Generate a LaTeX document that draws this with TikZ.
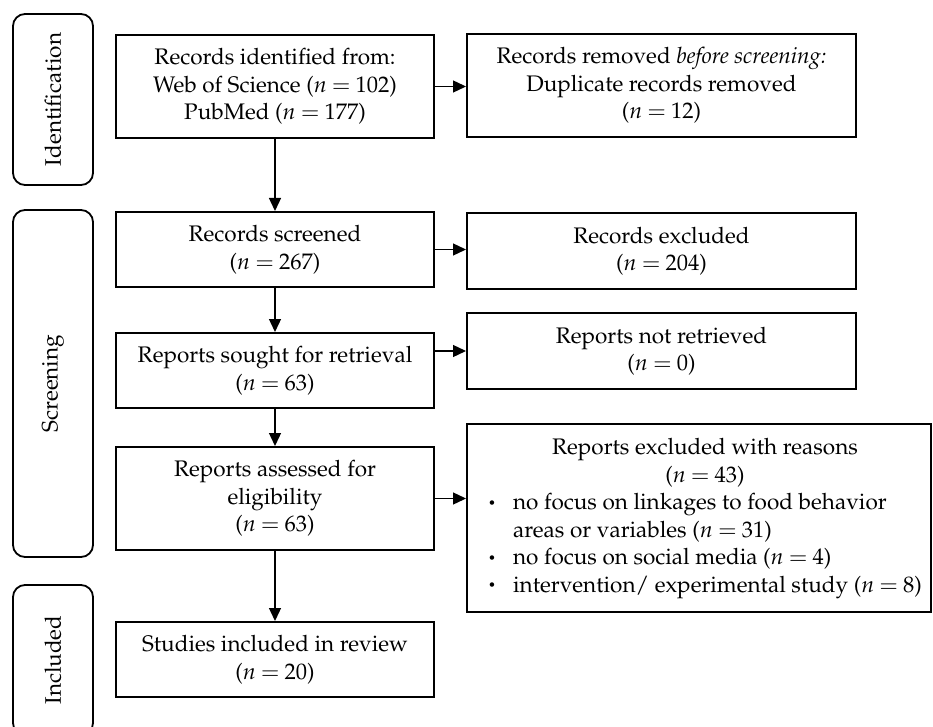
\documentclass[tikz,border=0pt]{standalone}
\usepackage[T1]{fontenc}
\usepackage{mathpazo}
\usetikzlibrary{arrows.meta}
\thickmuskip=4mu
\newcommand{\smallbullet}{\raisebox{2.5pt}{\fontsize{13}{13}\selectfont\textbullet}}
\tikzset{
  box/.style={draw, line width=2pt, align=center, inner sep=0pt},
  phase/.style={draw, line width=1.8pt, rounded corners=12pt, rotate=90, inner sep=0pt},
  flow/.style={line width=1.3pt, -{Triangle[length=13pt,width=12pt]}},
}
\begin{document}
\begin{tikzpicture}[x=1pt, y=-1pt, font=\fontsize{22.5}{27.5}\selectfont]
\useasboundingbox (0,0) rectangle (933,727);

% phase labels on the left
\node[phase, minimum width=171pt, minimum height=80pt] (idph)  at (53,99.5)  {Identification};
\node[phase, minimum width=347pt, minimum height=80pt] (scrph) at (53,383.5) {Screening};
\node[phase, minimum width=150pt, minimum height=80pt] (incph) at (53,660)   {Included};

% main column
\node[box, minimum width=318pt, minimum height=103pt] (ident) at (275,86.5)
  {Records identified from:\\ Web of Science ($n = 102$)\\ PubMed ($n = 177$)};
\node[box, minimum width=318pt, minimum height=75pt] (screen) at (275,249.5)
  {Records screened\\ ($n = 267$)};
\node[box, minimum width=318pt, minimum height=75pt] (sought) at (275,370.5)
  {Reports sought for retrieval\\ ($n = 63$)};
\node[box, minimum width=318pt, minimum height=103pt] (assess) at (275,498.5)
  {Reports assessed for\\ eligibility\\ ($n = 63$)};
\node[box, minimum width=318pt, minimum height=75pt] (incl) at (275,659.5)
  {Studies included in review\\ ($n = 20$)};

% side column
\node[box, minimum width=389pt, minimum height=103pt] (removed) at (661.5,85.5)
  {Records removed \textit{before screening:}\\ Duplicate records removed\\ ($n = 12$)};
\node[box, minimum width=389pt, minimum height=76pt] (excl) at (661.5,251)
  {Records excluded\\ ($n = 204$)};
\node[box, minimum width=389pt, minimum height=76pt] (notret) at (661.5,351)
  {Reports not retrieved\\ ($n = 0$)};
\node[box, minimum width=464pt, minimum height=188pt] (reasons) at (699,518)
  {\hspace*{12pt}\begin{tabular}{@{}p{25pt}@{}l@{}}
   \multicolumn{2}{c}{Reports excluded with reasons}\\
   \multicolumn{2}{c}{($n = 43$)}\\
   \smallbullet & no focus on linkages to food behavior\\
                & areas or variables ($n = 31$)\\
   \smallbullet & no focus on social media ($n = 4$)\\
   \smallbullet & intervention/ experimental study ($n = 8$)
   \end{tabular}};

% connectors
\draw[flow] (ident) -- (screen);
\draw[flow] (screen) -- (sought);
\draw[flow] (sought) -- (assess);
\draw[flow] (assess) -- (incl);
\draw[flow] (ident.east) -- (removed.west |- ident.east);
\draw[flow] (screen.east) -- (excl.west |- screen.east);
\draw[flow] (sought.east |- notret.west) -- (notret.west);
\draw[flow] (assess.east) -- (reasons.west |- assess.east);
\end{tikzpicture}
\end{document}
